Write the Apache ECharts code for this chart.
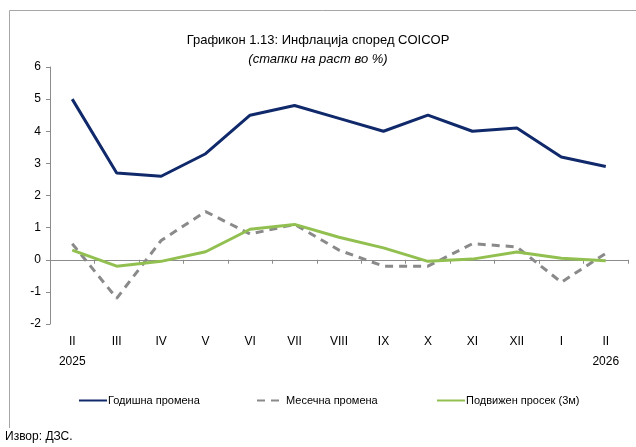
<!DOCTYPE html>
<html>
<head>
<meta charset="utf-8">
<script src="https://cdn.jsdelivr.net/npm/echarts@6/dist/echarts.min.js"></script>
<style>
  html, body { margin: 0; padding: 0; background: #fff; }
  #main { width: 636px; height: 447px; }
</style>
</head>
<body>
<div id="main"></div>
<script>
// месеци (II 2025 - II 2026)
var categories = ['II\n2025', 'III', 'IV', 'V', 'VI', 'VII', 'VIII', 'IX', 'X', 'XI', 'XII', 'I', 'II\n2026'];
var godishna = [5.0, 2.7, 2.6, 3.3, 4.5, 4.8, 4.4, 4.0, 4.5, 4.0, 4.1, 3.2, 2.9];
var mesechna = [0.5, -1.2, 0.6, 1.5, 0.8, 1.1, 0.3, -0.2, -0.2, 0.5, 0.4, -0.7, 0.2];
var podvizhen = [0.3, -0.2, -0.05, 0.25, 0.95, 1.1, 0.7, 0.37, -0.05, 0.02, 0.24, 0.05, -0.03];

var font = '"Liberation Sans", Arial, sans-serif';
var chart = echarts.init(document.getElementById('main'));

var option = {
    backgroundColor: '#fff',
    animation: false,
    textStyle: { fontFamily: font },
    title: {
        text: 'Графикон 1.13: Инфлација според COICOP',
        subtext: '(стапки на раст во %)',
        left: 'center',
        top: 29,
        itemGap: 6,
        textStyle: { fontFamily: font, fontSize: 13, fontWeight: 'normal', color: '#000' },
        subtextStyle: { fontFamily: font, fontSize: 13, fontStyle: 'italic', color: '#000' }
    },
    // рамка лево и горе
    graphic: [
        { type: 'line', shape: { x1: 9.5, y1: 10.5, x2: 636, y2: 10.5 }, style: { stroke: '#a6a6a6', lineWidth: 1 } },
        { type: 'line', shape: { x1: 9.5, y1: 10.5, x2: 9.5, y2: 428 }, style: { stroke: '#a6a6a6', lineWidth: 1 } },
        { type: 'text', left: 5, top: 431, style: { text: 'Извор: ДЗС.', font: '12px ' + font, fill: '#000' } }
    ],
    legend: [
        { data: ['Годишна промена'], left: 78, top: 395 },
        { data: ['Месечна промена'], left: 256, top: 395 },
        { data: ['Подвижен просек (3м)'], left: 436, top: 395 }
    ].map(function (l) {
        l.padding = 0;
        l.itemWidth = 28;
        l.itemHeight = 3;
        l.itemGap = 1;
        l.itemStyle = { opacity: 0 };
        l.textStyle = { fontFamily: font, fontSize: 11, color: '#000', padding: [0, 0, 0, -4] };
        return l;
    }),
    grid: { left: 50, right: 8, top: 67, bottom: 123 },
    xAxis: [
        {
            type: 'category',
            data: categories,
            boundaryGap: true,
            axisLine: { onZero: true, lineStyle: { color: '#8c8c8c', width: 1 } },
            axisTick: { show: true, length: 4, inside: false, lineStyle: { color: '#8c8c8c' } },
            axisLabel: { show: false },
            splitLine: { show: false }
        },
        {
            type: 'category',
            data: categories,
            position: 'bottom',
            boundaryGap: true,
            axisLine: { show: false, onZero: false },
            axisTick: { show: false },
            axisLabel: { margin: 8, fontFamily: font, fontSize: 12, color: '#000', lineHeight: 20 },
            splitLine: { show: false }
        }
    ],
    yAxis: {
        type: 'value',
        min: -2,
        max: 6,
        interval: 1,
        axisLine: { show: true, lineStyle: { color: '#8c8c8c', width: 1 } },
        axisTick: { show: true, length: 4, lineStyle: { color: '#8c8c8c' } },
        axisLabel: { margin: 9, fontFamily: font, fontSize: 12, color: '#000' },
        splitLine: { show: false }
    },
    series: [
        {
            name: 'Годишна промена',
            type: 'line',
            data: godishna,
            symbol: 'none',
            color: '#10296b',
            lineStyle: { width: 3, color: '#10296b' }
        },
        {
            name: 'Месечна промена',
            type: 'line',
            data: mesechna,
            symbol: 'none',
            color: '#8a8a8a',
            lineStyle: { width: 3, color: '#8a8a8a', type: [8, 6] }
        },
        {
            name: 'Подвижен просек (3м)',
            type: 'line',
            data: podvizhen,
            symbol: 'none',
            color: '#92c050',
            lineStyle: { width: 3, color: '#92c050' }
        }
    ]
};
option && chart.setOption(option);
</script>
</body>
</html>
